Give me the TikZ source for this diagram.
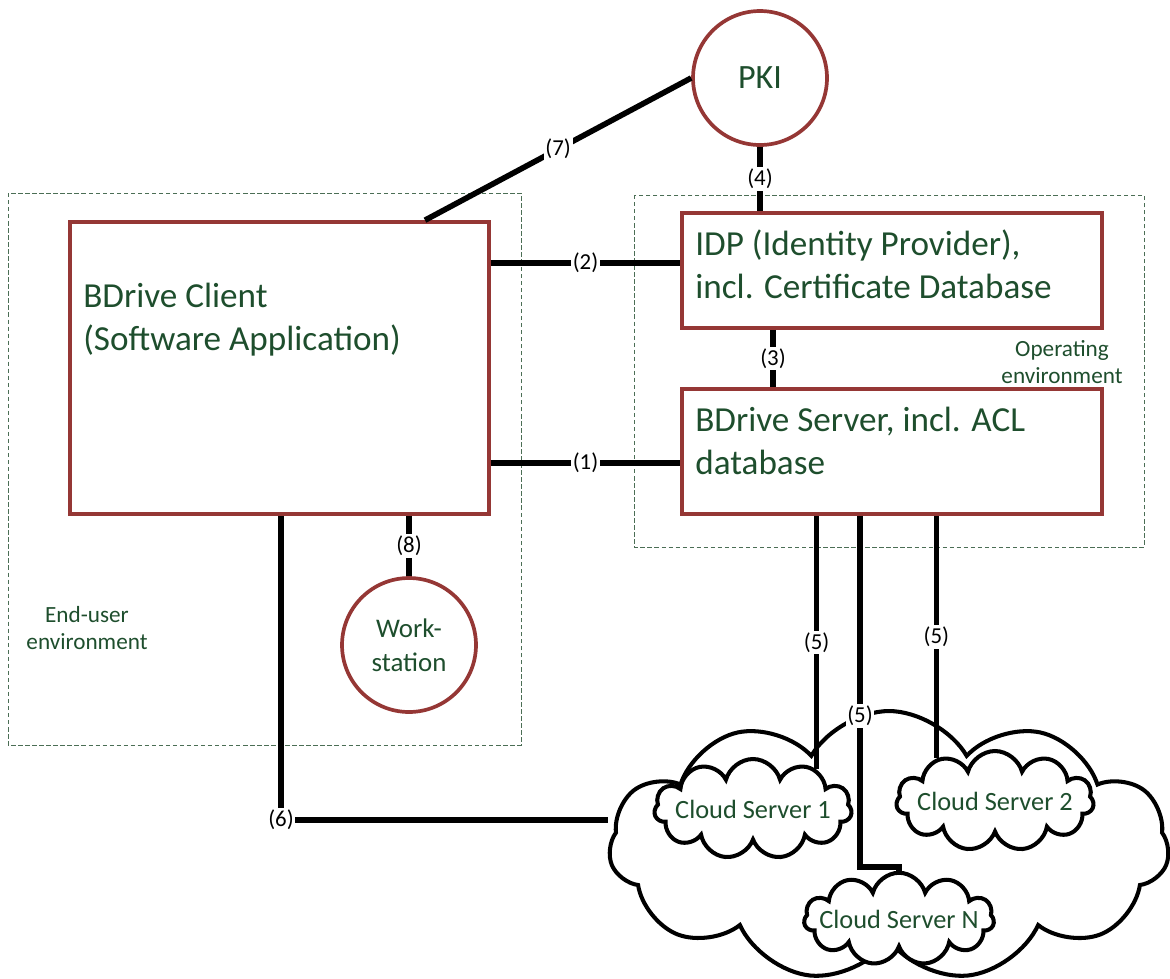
\documentclass[tikz,border=0pt]{standalone}
\usepackage{fontspec}
\setmainfont{Carlito}
\usetikzlibrary{positioning,shapes.symbols}

\definecolor{boxred}{RGB}{149,55,53}
\definecolor{txtgreen}{RGB}{30,78,45}
\definecolor{envgreen}{RGB}{75,110,85}

\begin{document}
\begin{tikzpicture}[x=0.02cm, y=-0.02cm,
        box/.style={draw=boxred, line width=2.1pt, rectangle, inner sep=0pt},
        circ/.style={draw=boxred, line width=2.1pt, circle, minimum size=2.68cm, inner sep=0pt, text=txtgreen, align=center},
        bigtxt/.style={text=txtgreen, align=left, inner sep=0pt, font=\fontsize{20}{24.4}\selectfont},
        envtxt/.style={text=txtgreen, align=center, inner sep=0pt, font=\fontsize{13.2}{15.6}\selectfont},
        envbox/.style={draw=envgreen, line width=0.5pt, dash pattern=on 2.5pt off 1.5pt},
        link/.style={line width=3.2pt},
        lbl/.style={fill=white, inner sep=1pt, font=\fontsize{13}{15}\selectfont},
        bigcloud/.style={draw, line width=2.3pt, fill=white, cloud, cloud puffs=11, cloud puff arc=120, cloud ignores aspect, inner sep=0pt},
        srvcloud/.style={draw, line width=2.3pt, fill=white, cloud, cloud puffs=11, cloud ignores aspect, inner sep=0pt, text=txtgreen, font=\fontsize{15}{18}\selectfont}]
        \useasboundingbox (0,0) rectangle (1170,978);

        % environments
        \draw[envbox] (8,193) rectangle (521,745);
        \draw[envbox] (634,195) rectangle (1144,547);
        \node[envtxt] (eu) at (87,628) {End-user\\environment};
        \node[envtxt] (op) at (1062,362) {Operating\\environment};

        % boxes
        \node[box, minimum width=8.38cm, minimum height=5.84cm] (client) at (279.5,368) {};
        \node[box, minimum width=8.4cm, minimum height=2.3cm] (idp) at (892,270.5) {};
        \node[box, minimum width=8.4cm, minimum height=2.5cm] (server) at (892,451.5) {};
        \node[bigtxt, anchor=base west] (clienttxt) at (83,350) {BDrive Client\\(Software Application)};
        \node[bigtxt, anchor=base west] (idptxt) at (695,298) {IDP (Identity Provider),\\incl. Certificate Database};
        \node[bigtxt, anchor=base west] (servertxt) at (695,474) {BDrive Server, incl. ACL\\database};

        \node[circ, font=\fontsize{19.4}{22}\selectfont] (pki) at (760,78) {PKI};
        \node[circ, font=\fontsize{15.3}{19.3}\selectfont] (ws) at (409,645) {Work-\\station};

        % clouds
        \node[bigcloud, minimum width=11.2cm, minimum height=5.4cm] (cloud) at (889,846) {};
        \node[srvcloud, minimum width=3.95cm, minimum height=2cm] (cs1) at (753,809) {\makebox[0pt]{Cloud Server 1}};
        \node[srvcloud, minimum width=3.95cm, minimum height=2cm] (cs2) at (995,801) {\makebox[0pt]{Cloud Server 2}};
        \node[srvcloud, minimum width=3.8cm, minimum height=1.85cm] (csn) at (899,919) {\makebox[0pt]{Cloud Server N}};

        % links
        \draw[link] (client.east |- 0,463) -- node[lbl] {(1)} (server.west |- 0,463);
        \draw[link] (client.east |- 0,263) -- node[lbl] {(2)} (idp.west |- 0,263);
        \draw[link] (idp.south -| 773,0) -- node[lbl] {(3)} (server.north -| 773,0);
        \draw[link] (pki.south) -- node[lbl] {(4)} (idp.north -| pki.south);
        \draw[link] (server.south -| cs1.32) -- node[lbl] {(5)} (cs1.32);
        \draw[link] (server.south -| 860,0) -- node[lbl, pos=0.57] {(5)} (860,867) -| (csn.north);
        \draw[link] (server.south -| cs2.144) -- node[lbl] {(5)} (cs2.144);
        \draw[link] (client.south -| 281,0) |- node[lbl] {(6)} (cloud.west |- 0,820);
        \draw[link] (client.north -| 425,0) -- node[lbl] {(7)} (pki.west);
        \draw[link] (client.south -| ws.north) -- node[lbl] {(8)} (ws.north);

    \end{tikzpicture}
\end{document}
